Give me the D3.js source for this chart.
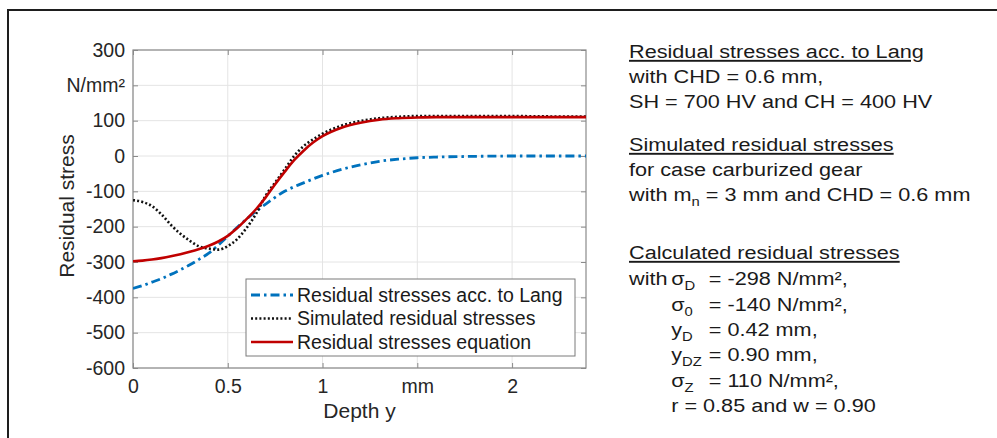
<!DOCTYPE html>
<html><head><meta charset="utf-8">
<script src="https://cdn.jsdelivr.net/npm/d3@7"></script>
<style>
html,body{margin:0;padding:0;background:#fff;}
svg{display:block;font-family:"Liberation Sans",Arial,Helvetica,sans-serif;}
</style></head><body>
<svg id="chart" width="997" height="438"></svg>
<script>
// ---------------- data ----------------
const depth = [0,0.05,0.1,0.15,0.2,0.25,0.3,0.35,0.4,0.45,0.5,0.55,0.6,0.65,0.7,0.75,0.8,0.85,0.9,0.95,1.0,1.1,1.2,1.3,1.4,1.5,1.6,1.8,2.0,2.2,2.39];
const langStress = [-375,-367,-357,-347,-335,-322,-308,-292,-275,-252,-227,-202,-178,-156,-136,-117,-100,-87,-76,-65,-55,-38,-25,-15,-9,-5,-3,-1,0,0,0];
const simStress  = [-125,-130,-142,-165,-195,-220,-240,-256,-262,-265,-255,-235,-203,-163,-112,-75,-38,0,28,47,63,86,99,107,111,113,113,113,113,112,112];
const eqStress   = [-298,-296,-293,-289,-284,-278,-271,-263,-254,-242,-226,-204,-178,-150,-117,-80,-45,-12,15,38,56,80,94,103,107,109,110,110,110,110,110];
const seriesNames = ["Residual stresses acc. to Lang","Simulated residual stresses","Residual stresses equation"];
const yTickVals = [-600,-500,-400,-300,-200,-100,0,100,200,300];
const yTickLabels = ["-600","-500","-400","-300","-200","-100","0","100","N/mm²","300"];
const xTickVals = [0,0.5,1,1.5,2];
const xTickLabels = ["0","0.5","1","mm","2"];
const xLabel = "Depth y";
const yLabel = "Residual stress";

// ---------------- setup ----------------
const W = 997, H = 438;
const svg = d3.select("#chart");
const P = {left:133, top:50, right:586, bottom:368};
const x = d3.scaleLinear().domain([0, 2.39]).range([P.left, P.right]);
const y = d3.scaleLinear().domain([-600, 300]).range([P.bottom, P.top]);
const textCol = "#262626", axisCol = "#8a8a8a", gridCol = "#e4e4e4";

// outer frame (top and left edges)
svg.append("path").attr("d", `M8,${H} V10 H${W}`)
  .attr("fill","none").attr("stroke","#1e1e1e").attr("stroke-width",2);

// grid
const grid = svg.append("g");
grid.selectAll(".gx").data(xTickVals).join("line")
  .attr("x1", d=>x(d)).attr("x2", d=>x(d)).attr("y1", P.top).attr("y2", P.bottom)
  .attr("stroke", gridCol).attr("stroke-width",1);
grid.selectAll(".gy").data(yTickVals).join("line")
  .attr("x1", P.left).attr("x2", P.right).attr("y1", d=>y(d)).attr("y2", d=>y(d))
  .attr("stroke", gridCol).attr("stroke-width",1);

// axes
function styleAxis(g){
  g.select(".domain").remove();
  g.selectAll(".tick line").attr("stroke", axisCol).attr("stroke-width",1);
  g.selectAll(".tick text").attr("fill", textCol).style("font-size","19.5px");
}
svg.append("g").attr("transform",`translate(${P.left},0)`)
  .call(d3.axisLeft(y).tickValues(yTickVals).tickFormat((d,i)=>yTickLabels[i]).tickSizeInner(-5).tickSizeOuter(0).tickPadding(8))
  .call(styleAxis);
svg.append("g").attr("transform",`translate(0,${P.bottom})`)
  .call(d3.axisBottom(x).tickValues(xTickVals).tickFormat((d,i)=>xTickLabels[i]).tickSizeInner(-5).tickSizeOuter(0).tickPadding(11))
  .call(styleAxis);
svg.append("g").attr("transform",`translate(${P.right},0)`)
  .call(d3.axisRight(y).tickValues(yTickVals).tickFormat("").tickSizeInner(-5).tickSizeOuter(0))
  .call(styleAxis);
svg.append("g").attr("transform",`translate(0,${P.top})`)
  .call(d3.axisTop(x).tickValues(xTickVals).tickFormat("").tickSizeInner(-5).tickSizeOuter(0))
  .call(styleAxis);
svg.append("rect").attr("x",P.left).attr("y",P.top).attr("width",P.right-P.left).attr("height",P.bottom-P.top)
  .attr("fill","none").attr("stroke",axisCol).attr("stroke-width",1.2);

// curves
svg.append("clipPath").attr("id","clip").append("rect")
  .attr("x",P.left).attr("y",P.top).attr("width",P.right-P.left).attr("height",P.bottom-P.top);
const line = d3.line().x((d,i)=>x(depth[i])).y(d=>y(d)).curve(d3.curveMonotoneX);
const styles = [
  {data: langStress, color:"#0072BD", width:2.8, dash:"9,4,2.5,4"},
  {data: simStress,  color:"#111111", width:2.6, dash:"2,2.2"},
  {data: eqStress,   color:"#c00000", width:2.6, dash:null}
];
const cg = svg.append("g").attr("clip-path","url(#clip)");
styles.forEach(s=>{
  cg.append("path").datum(s.data).attr("d", line)
    .attr("fill","none").attr("stroke", s.color).attr("stroke-width", s.width)
    .attr("stroke-dasharray", s.dash);
});

// legend
const lg = svg.append("g");
lg.append("rect").attr("x",246).attr("y",279).attr("width",329).attr("height",77)
  .attr("fill","#fff").attr("stroke","#7a7a7a").attr("stroke-width",1);
styles.forEach((s,i)=>{
  const ly = 295 + i*23.5;
  lg.append("line").attr("x1",251).attr("x2",293).attr("y1",ly).attr("y2",ly)
    .attr("stroke",s.color).attr("stroke-width",s.width).attr("stroke-dasharray",s.dash);
  lg.append("text").attr("x",297).attr("y",ly).attr("dy","0.35em")
    .attr("fill","#1a1a1a").style("font-size","19.5px").text(seriesNames[i]);
});

// axis labels
svg.append("text").attr("x",(P.left+P.right)/2).attr("y",418).attr("text-anchor","middle")
  .attr("fill",textCol).style("font-size","21px").text(xLabel);
svg.append("text").attr("transform",`translate(74,${(P.top+P.bottom)/2 - 3}) rotate(-90)`)
  .attr("text-anchor","middle").attr("fill",textCol).style("font-size","21px").text(yLabel);

// right-hand annotation text
const ng = svg.append("g").attr("transform","translate(629,0) scale(1.14,1)")
  .attr("fill","#1a1a1a").style("font-size","19px");
function addLine(xx, yy, parts, underline){
  const t = ng.append("text").attr("x",xx).attr("y",yy);
  if (underline) t.style("text-decoration","underline");
  let shifted = false;
  parts.forEach(p=>{
    const isSub = Array.isArray(p);
    const txt = isSub ? p[0] : p;
    const ts = t.append("tspan").text(txt);
    if (isSub && !shifted){ ts.attr("dy",5).style("font-size","13px"); shifted = true; }
    else if (isSub){ ts.style("font-size","13px"); }
    else if (shifted){ ts.attr("dy",-5); shifted = false; }
  });
  return t;
}
addLine(0, 58, ["Residual stresses acc. to Lang"], true);
addLine(0, 83, ["with CHD = 0.6 mm,"]);
addLine(0, 108, ["SH = 700 HV and CH = 400 HV"]);
addLine(0, 151, ["Simulated residual stresses"], true);
addLine(0, 176, ["for case carburized gear"]);
addLine(0, 201, ["with m", ["n"], " = 3 mm and CHD = 0.6 mm"]);
addLine(0, 259, ["Calculated residual stresses"], true);
addLine(0, 285, ["with"]);
const ind = 37, eqx = 70;
const params = [
  {y:285, sym:"σ", sub:"D",  val:"= -298 N/mm²,"},
  {y:311, sym:"σ", sub:"0",  val:"= -140 N/mm²,"},
  {y:336, sym:"y", sub:"D",  val:"= 0.42 mm,"},
  {y:361, sym:"y", sub:"DZ", val:"= 0.90 mm,"},
  {y:387, sym:"σ", sub:"Z",  val:"= 110 N/mm²,"}
];
params.forEach(p=>{
  addLine(ind, p.y, [p.sym, [p.sub]]);
  addLine(eqx, p.y, [p.val]);
});
addLine(ind, 412, ["r = 0.85 and w = 0.90"]);
</script>
</body></html>
